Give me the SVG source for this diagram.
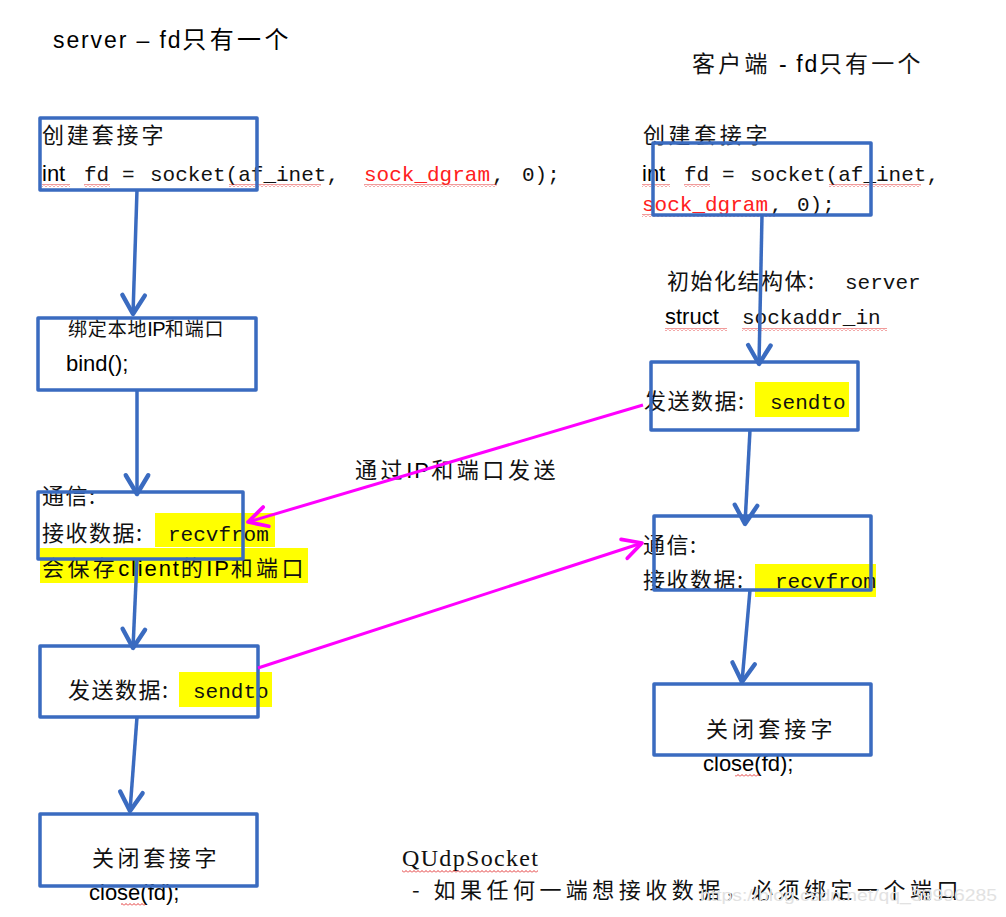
<svg xmlns="http://www.w3.org/2000/svg" width="1006" height="917" viewBox="0 0 1006 917">
<style>
.bg{fill:#ffffff}
.box{fill:none;stroke:#3A6BC0;stroke-width:3.5;stroke-linejoin:round}
.cn{font-family:"Noto Sans CJK SC","Liberation Serif",serif;font-size:22px;fill:#111;letter-spacing:1.5px}
.mono{font-family:"Liberation Mono","Noto Sans CJK SC",monospace;font-size:21px;fill:#111;letter-spacing:0}
.sans{font-family:"Liberation Sans","Noto Sans CJK SC",sans-serif;font-size:22px;fill:#000;letter-spacing:0}
.serif{font-family:"Liberation Serif","Noto Sans CJK SC",serif;font-size:24px;fill:#111}
.red{fill:#FF2020}
.hl{fill:#FFFF00}
.wave{fill:url(#wave)}
.conn{stroke:#3A6BC0;stroke-width:3.5;fill:none;marker-end:url(#arrB)}
.mag{stroke:#FF00FF;stroke-width:3;fill:none;marker-end:url(#arrM)}
.wm{font-family:"Liberation Sans",sans-serif;font-size:17px;fill:#e2e2e2}
</style>
<defs>
<pattern id="wave" width="4" height="3" patternUnits="userSpaceOnUse">
<path d="M0 2.5 L2 0.5 L4 2.5" stroke="#E02020" stroke-width="0.9" fill="none"/>
</pattern>
<marker id="arrB" markerUnits="userSpaceOnUse" markerWidth="30" markerHeight="30" refX="0" refY="0" viewBox="-18 -12 22 24" orient="auto">
<path d="M-15 -9 L0 0 L-15 9" fill="none" stroke="#3A6BC0" stroke-width="3.5" stroke-linecap="round" stroke-linejoin="round"/>
</marker>
<marker id="arrM" markerUnits="userSpaceOnUse" markerWidth="30" markerHeight="30" refX="0" refY="0" viewBox="-18 -12 22 24" orient="auto">
<path d="M-15 -8 L0 0 L-15 8" fill="none" stroke="#FF00FF" stroke-width="3" stroke-linecap="round" stroke-linejoin="round"/>
</marker>
</defs>
<rect class="bg" x="0" y="0" width="1006" height="917"/>

<g id="title-server">
<text x="53" y="48" class="sans" style="font-size:23px" textLength="237">server – fd<tspan class="cn" style="fill:#000;font-size:24px">只有一个</tspan></text>
</g>
<g id="title-client">
<text x="692" y="72" class="cn" style="font-size:23px" textLength="230">客户端 <tspan class="sans" style="font-size:23px">- fd</tspan>只有一个</text>
</g>

<g id="s-create">
<text x="42" y="143" class="cn" textLength="123">创建套接字</text>
<text y="181"><tspan x="42" class="sans">int</tspan><tspan x="84" class="mono">fd</tspan><tspan x="122" class="mono">=</tspan><tspan x="150" class="mono">socket(af_inet,</tspan><tspan x="364" class="mono red">sock_dgram</tspan><tspan x="492" class="mono">,</tspan><tspan x="522" class="mono">0);</tspan></text>
<rect class="wave" x="42" y="184" width="28" height="3"/>
<rect class="wave" x="84" y="184" width="26" height="3"/>
<rect class="wave" x="229" y="184" width="92" height="3"/>
<rect class="wave" x="364" y="184" width="133" height="3"/>
<rect class="box" x="40" y="118" width="217" height="72"/>
</g>

<g id="s-bind">
<text x="68" y="336" class="cn" style="font-size:19px" textLength="157">绑定本地<tspan class="sans" style="font-size:20px">IP</tspan>和端口</text>
<text x="66" y="371" class="sans">bind();</text>
<rect class="box" x="38" y="318" width="218" height="72"/>
</g>

<g id="s-recv">
<rect class="hl" x="155" y="513" width="120" height="34"/>
<rect class="hl" x="40" y="548" width="268" height="35"/>
<text x="42" y="504" class="cn">通信:</text>
<text x="42" y="541" class="cn">接收数据:<tspan x="168" class="mono">recvfrom</tspan></text>
<text x="42" y="576" class="cn" textLength="263">会保存<tspan class="sans">client</tspan>的<tspan class="sans">IP</tspan>和端口</text>
<rect class="box" x="38" y="492" width="205" height="67"/>
</g>

<g id="s-send">
<rect class="hl" x="179" y="672" width="93" height="35"/>
<text x="68" y="698" class="cn">发送数据:<tspan x="193" class="mono">sendto</tspan></text>
<rect class="box" x="40" y="646" width="218" height="71"/>
</g>

<g id="s-close">
<text x="92" y="866" class="cn" textLength="126">关闭套接字</text>
<text x="89" y="900" class="sans">close(fd);</text>
<rect class="wave" x="121" y="903" width="24" height="3"/>
<rect class="box" x="40" y="814" width="217" height="72"/>
</g>

<g id="c-create">
<text x="643" y="143" class="cn" textLength="126">创建套接字</text>
<text y="181"><tspan x="642" class="sans">int</tspan><tspan x="684" class="mono">fd</tspan><tspan x="722" class="mono">=</tspan><tspan x="750" class="mono">socket(af_inet,</tspan></text>
<text y="211"><tspan x="642" class="mono red">sock_dgram</tspan><tspan x="770" class="mono">,</tspan><tspan x="797" class="mono">0);</tspan></text>
<rect class="wave" x="642" y="184" width="28" height="3"/>
<rect class="wave" x="684" y="184" width="26" height="3"/>
<rect class="wave" x="829" y="184" width="92" height="3"/>
<rect class="wave" x="642" y="214" width="133" height="3"/>
<rect class="box" x="653" y="143" width="218" height="72"/>
</g>

<g id="c-init">
<text x="667" y="289" class="cn">初始化结构体:<tspan x="845" class="mono">server</tspan></text>
<text y="324"><tspan x="665" class="sans">struct</tspan><tspan x="742" class="mono">sockaddr_in</tspan></text>
<rect class="wave" x="665" y="328" width="62" height="3"/>
<rect class="wave" x="742" y="328" width="145" height="3"/>
</g>

<g id="c-send">
<rect class="hl" x="755" y="382" width="94" height="35"/>
<text x="644" y="409" class="cn">发送数据:<tspan x="770" class="mono">sendto</tspan></text>
<rect class="box" x="651" y="362" width="207" height="68"/>
</g>

<g id="c-recv">
<rect class="hl" x="755" y="564" width="121" height="33"/>
<text x="643" y="553" class="cn">通信:</text>
<text x="643" y="588" class="cn">接收数据:<tspan x="775" class="mono">recvfrom</tspan></text>
<rect class="box" x="654" y="516" width="217" height="74"/>
</g>

<g id="c-close">
<text x="706" y="737" class="cn" textLength="128">关闭套接字</text>
<text x="703" y="771" class="sans">close(fd);</text>
<rect class="wave" x="735" y="774" width="24" height="3"/>
<rect class="box" x="654" y="684" width="217" height="71"/>
</g>

<g id="note-ip">
<text x="355" y="478" class="cn" textLength="202">通过<tspan class="sans">IP</tspan>和端口发送</text>
</g>

<g id="note-qudp">
<text x="402" y="866" class="serif" textLength="136">QUdpSocket</text>
<rect class="wave" x="402" y="870" width="136" height="3"/>
<text x="412" y="898" class="cn" textLength="548">-  如果任何一端想接收数据，必须绑定一个端口</text>
</g>

<g id="connectors">
<path class="conn" d="M137 190 L133 314"/>
<path class="conn" d="M137 390 L137 494"/>
<path class="conn" d="M137 559 L133 648"/>
<path class="conn" d="M137 717 L130 811"/>
<path class="conn" d="M762 215 L759 364"/>
<path class="conn" d="M750 430 L745 524"/>
<path class="conn" d="M750 590 L742 682"/>
<path class="mag" d="M643 405 L248 522"/>
<path class="mag" d="M258 668 L642 543"/>
</g>

<text x="700" y="901" class="wm" textLength="297" lengthAdjust="spacingAndGlyphs">https://blog.csdn.net/qq_39996285</text>
</svg>
